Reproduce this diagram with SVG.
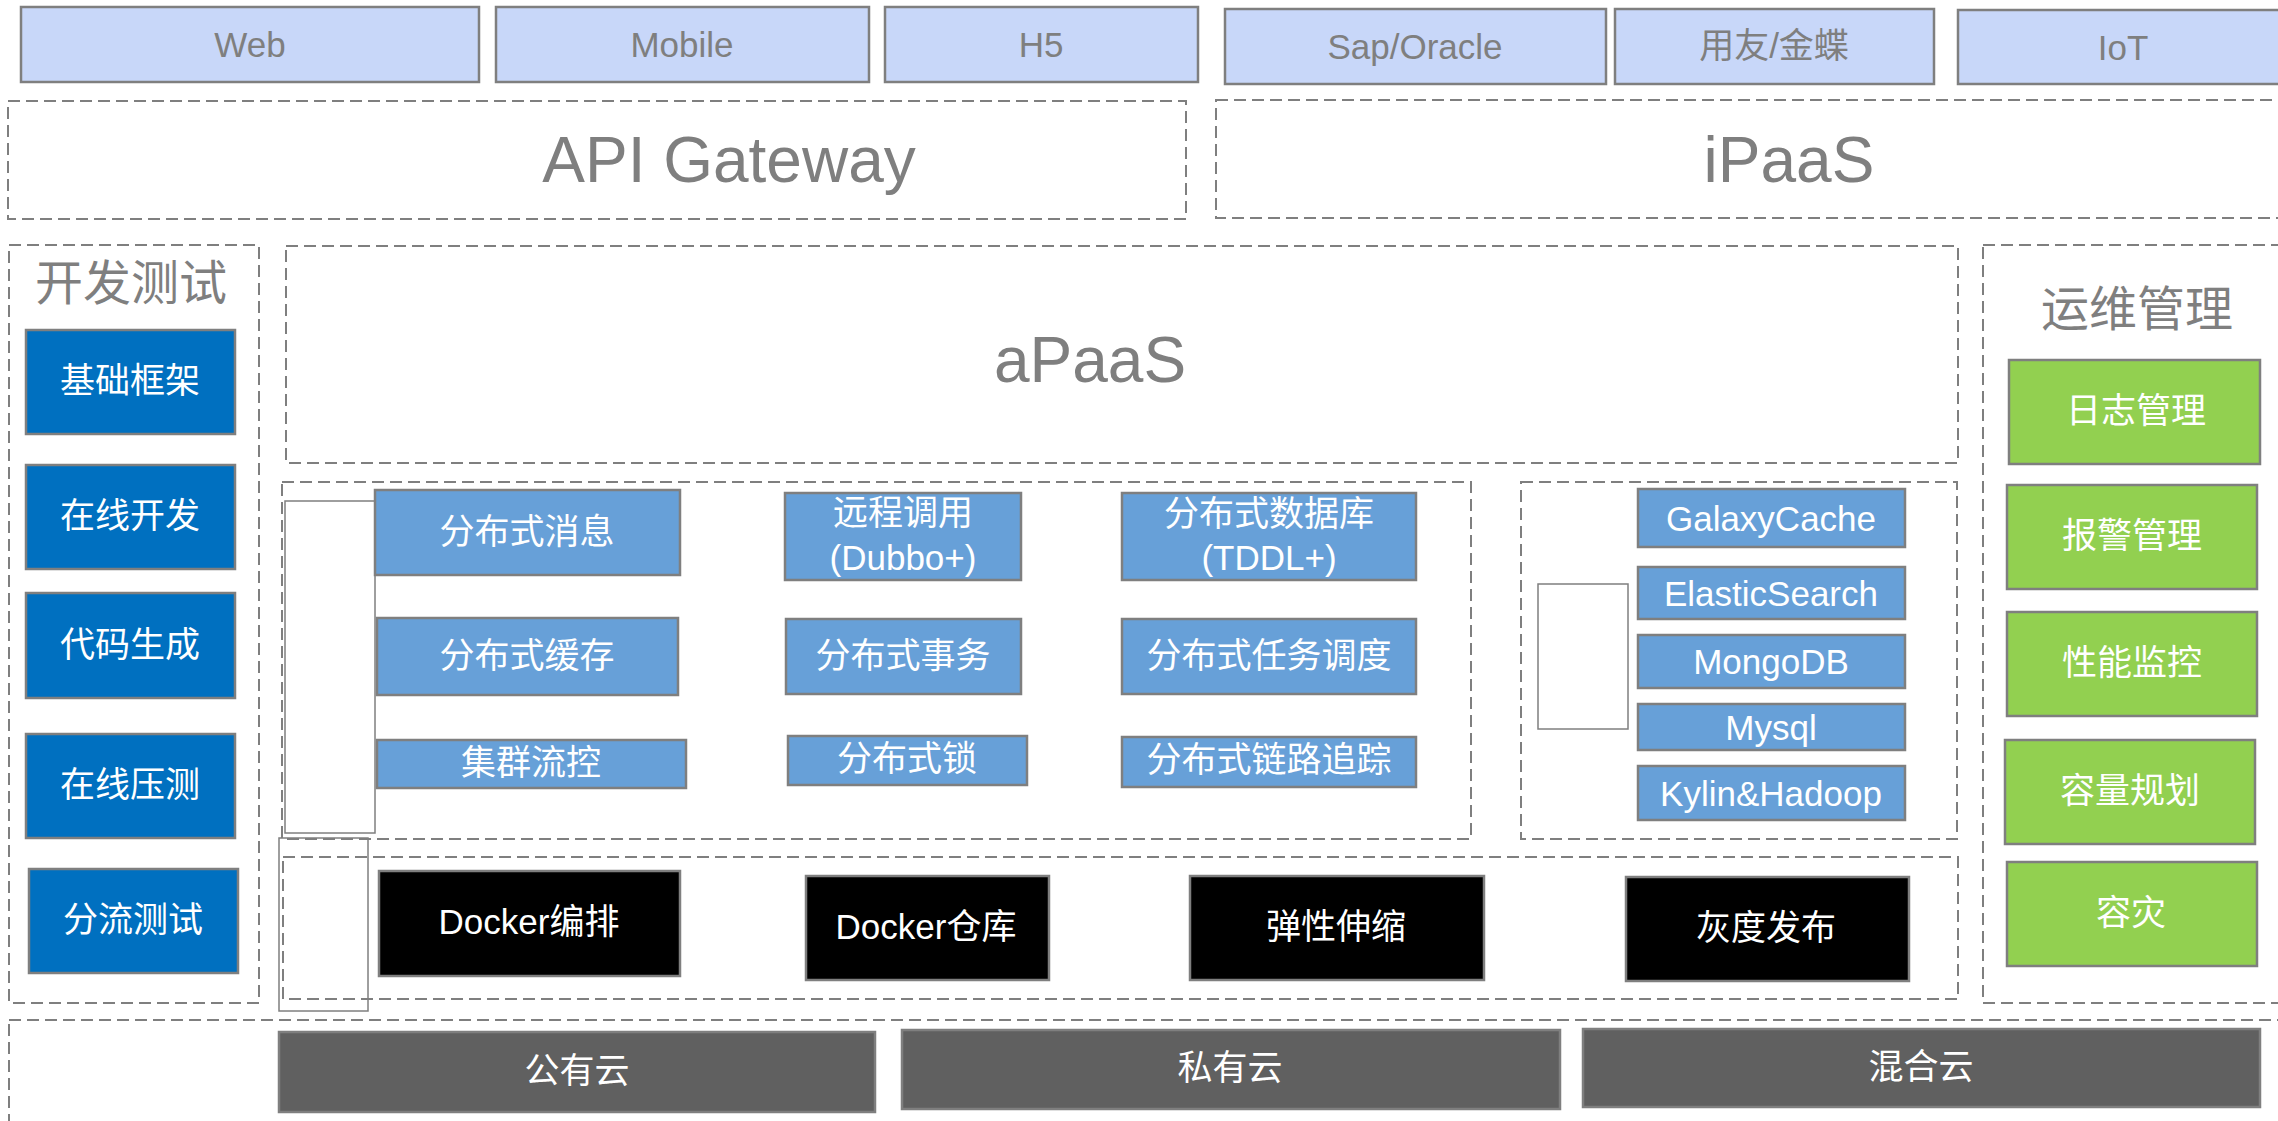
<svg xmlns="http://www.w3.org/2000/svg" width="2278" height="1121" viewBox="0 0 2278 1121">
<style>
  .top{fill:#C8D7F9;stroke:#7F7F7F;stroke-width:2.5}
  .dash{fill:none;stroke:#7F7F7F;stroke-width:2;stroke-dasharray:12 6}
  .plain{fill:none;stroke:#7F7F7F;stroke-width:1.5}
  .blue{fill:#0070C0;stroke:#7F7F7F;stroke-width:2.5}
  .lb{fill:#67A0D8;stroke:#7F7F7F;stroke-width:2.5}
  .green{fill:#92D050;stroke:#7F7F7F;stroke-width:2.5}
  .black{fill:#000000;stroke:#7F7F7F;stroke-width:2.5}
  .cloud{fill:#606060;stroke:#7F7F7F;stroke-width:2.5}
  text{font-family:"Liberation Sans","Noto Sans CJK SC",sans-serif;text-anchor:middle;dominant-baseline:central}
  .w{fill:#FFFFFF;font-size:35px}
  .g{fill:#7F7F7F;font-size:35px}
  .big{fill:#7F7F7F;font-size:64px}
  .title{fill:#7F7F7F;font-size:48px}
</style>
<rect width="2278" height="1121" fill="#FFFFFF"/>

<!-- containers -->
<g id="api-gateway"><rect class="dash" x="8" y="101" width="1178" height="118"/><text class="big" x="729" y="160">API Gateway</text></g>
<g id="ipaas"><rect class="dash" x="1216" y="100" width="1080" height="118"/><text class="big" x="1789" y="160">iPaaS</text></g>
<g id="devtest"><rect class="dash" x="9" y="245" width="250" height="758"/><text class="title" x="131" y="283">开发测试</text></g>
<g id="apaas"><rect class="dash" x="286" y="246" width="1672" height="217"/><text class="big" x="1090" y="360">aPaaS</text></g>
<g id="middleware"><rect class="dash" x="282" y="482" width="1189" height="357"/></g>
<g id="storage"><rect class="dash" x="1521" y="482" width="436" height="357"/></g>
<g id="devops"><rect class="dash" x="283" y="857" width="1675" height="142"/></g>
<g id="ops"><rect class="dash" x="1983" y="245" width="320" height="758"/><text class="title" x="2137" y="309">运维管理</text></g>
<g id="cloud"><rect class="dash" x="9" y="1020" width="2300" height="120"/></g>

<!-- plain frames -->
<g id="frame-1"><rect class="plain" x="285" y="501" width="90" height="332"/></g>
<g id="frame-2"><rect class="plain" x="279" y="838" width="89" height="173"/></g>
<g id="frame-3"><rect class="plain" x="1538" y="584" width="90" height="145"/></g>

<!-- top row -->
<g id="web"><rect class="top" x="21" y="7" width="458" height="75"/><text class="g" x="250" y="44">Web</text></g>
<g id="mobile"><rect class="top" x="496" y="7" width="373" height="75"/><text class="g" x="682" y="44">Mobile</text></g>
<g id="h5"><rect class="top" x="885" y="7" width="313" height="75"/><text class="g" x="1041" y="44">H5</text></g>
<g id="sap"><rect class="top" x="1225" y="9" width="381" height="75"/><text class="g" x="1415" y="46">Sap/Oracle</text></g>
<g id="yonyou"><rect class="top" x="1615" y="9" width="319" height="75"/><text class="g" x="1774" y="45">用友/金蝶</text></g>
<g id="iot"><rect class="top" x="1958" y="10" width="330" height="74"/><text class="g" x="2123" y="47">IoT</text></g>

<!-- dev test -->
<g id="jichu"><rect class="blue" x="26" y="330" width="209" height="104"/><text class="w" x="130" y="380">基础框架</text></g>
<g id="zaixian"><rect class="blue" x="26" y="465" width="209" height="104"/><text class="w" x="130" y="515">在线开发</text></g>
<g id="daima"><rect class="blue" x="26" y="593" width="209" height="105"/><text class="w" x="130" y="644">代码生成</text></g>
<g id="yace"><rect class="blue" x="26" y="734" width="209" height="104"/><text class="w" x="130" y="784">在线压测</text></g>
<g id="fenliu"><rect class="blue" x="29" y="869" width="209" height="104"/><text class="w" x="133" y="919">分流测试</text></g>

<!-- middleware -->
<g id="xiaoxi"><rect class="lb" x="375" y="490" width="305" height="85"/><text class="w" x="527" y="531">分布式消息</text></g>
<g id="huancun"><rect class="lb" x="377" y="618" width="301" height="77"/><text class="w" x="527" y="655">分布式缓存</text></g>
<g id="liukong"><rect class="lb" x="377" y="740" width="309" height="48"/><text class="w" x="531" y="762">集群流控</text></g>
<g id="rpc"><rect class="lb" x="785" y="493" width="236" height="87"/><text class="w" x="903" y="512">远程调用</text><text class="w" x="903" y="557">(Dubbo+)</text></g>
<g id="shiwu"><rect class="lb" x="786" y="619" width="235" height="75"/><text class="w" x="903" y="655">分布式事务</text></g>
<g id="suo"><rect class="lb" x="788" y="736" width="239" height="49"/><text class="w" x="907" y="758">分布式锁</text></g>
<g id="db"><rect class="lb" x="1122" y="493" width="294" height="87"/><text class="w" x="1269" y="513">分布式数据库</text><text class="w" x="1269" y="557">(TDDL+)</text></g>
<g id="renwu"><rect class="lb" x="1122" y="619" width="294" height="75"/><text class="w" x="1269" y="655">分布式任务调度</text></g>
<g id="lianlu"><rect class="lb" x="1122" y="737" width="294" height="50"/><text class="w" x="1269" y="759">分布式链路追踪</text></g>

<!-- storage -->
<g id="galaxycache"><rect class="lb" x="1638" y="489" width="267" height="58"/><text class="w" x="1771" y="518">GalaxyCache</text></g>
<g id="elasticsearch"><rect class="lb" x="1638" y="567" width="267" height="52"/><text class="w" x="1771" y="593">ElasticSearch</text></g>
<g id="mongodb"><rect class="lb" x="1638" y="635" width="267" height="53"/><text class="w" x="1771" y="661">MongoDB</text></g>
<g id="mysql"><rect class="lb" x="1638" y="704" width="267" height="46"/><text class="w" x="1771" y="727">Mysql</text></g>
<g id="kylin"><rect class="lb" x="1638" y="766" width="267" height="54"/><text class="w" x="1771" y="793">Kylin&amp;Hadoop</text></g>

<!-- devops -->
<g id="docker-bianpai"><rect class="black" x="379" y="871" width="301" height="105"/><text class="w" x="529" y="921">Docker编排</text></g>
<g id="docker-cangku"><rect class="black" x="806" y="876" width="243" height="104"/><text class="w" x="926" y="926">Docker仓库</text></g>
<g id="tanxing"><rect class="black" x="1190" y="876" width="294" height="104"/><text class="w" x="1336" y="926">弹性伸缩</text></g>
<g id="huidu"><rect class="black" x="1626" y="877" width="283" height="104"/><text class="w" x="1766" y="927">灰度发布</text></g>

<!-- ops -->
<g id="rizhi"><rect class="green" x="2009" y="360" width="251" height="104"/><text class="w" x="2136" y="410">日志管理</text></g>
<g id="baojing"><rect class="green" x="2007" y="485" width="250" height="104"/><text class="w" x="2132" y="535">报警管理</text></g>
<g id="xingneng"><rect class="green" x="2007" y="612" width="250" height="104"/><text class="w" x="2132" y="662">性能监控</text></g>
<g id="rongliang"><rect class="green" x="2005" y="740" width="250" height="104"/><text class="w" x="2130" y="790">容量规划</text></g>
<g id="rongzai"><rect class="green" x="2007" y="862" width="250" height="104"/><text class="w" x="2131" y="912">容灾</text></g>

<!-- clouds -->
<g id="gongyou"><rect class="cloud" x="279" y="1032" width="596" height="80"/><text class="w" x="577" y="1070">公有云</text></g>
<g id="siyou"><rect class="cloud" x="902" y="1030" width="658" height="79"/><text class="w" x="1230" y="1067">私有云</text></g>
<g id="hunhe"><rect class="cloud" x="1583" y="1029" width="677" height="78"/><text class="w" x="1921" y="1066">混合云</text></g>

<g id="connectors"></g>
</svg>
